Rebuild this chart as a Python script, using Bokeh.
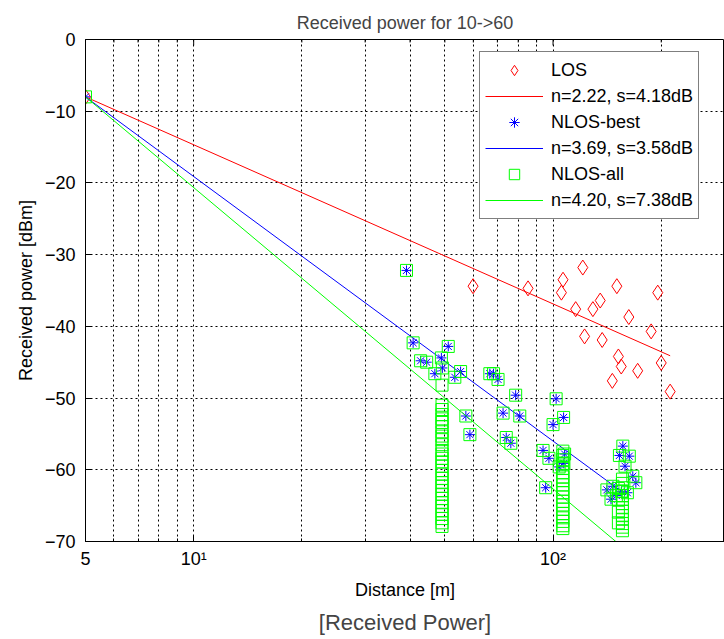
from bokeh.plotting import figure
from bokeh.models import (Range1d, FixedTicker, Legend, LegendItem, Title)
from bokeh.embed import file_html
from bokeh.resources import INLINE

# ---------------- data ----------------
los_d = [5, 59.9, 85.2, 106.6, 105.5, 121, 115.6, 135.3, 129.1, 150.5, 162.5,
         195.6, 122.4, 137, 187.5, 152, 154.8, 172, 146.2, 200, 211.8]
los_p = [-8, -34.4, -34.7, -33.5, -35.3, -31.8, -37.6, -36.4, -37.6, -34.4, -38.7,
         -35.3, -41.4, -41.9, -40.7, -44.2, -45.6, -46.2, -47.6, -45.1, -49.1]

best_d = [5, 39.1, 40.8, 51.1, 42.8, 44.5, 48.9, 49.2, 46.9, 53.3, 55.3, 66.7, 68.3,
          70.3, 78.7, 102, 57.2, 72.6, 80.8, 100, 107, 58.7, 74.1, 76.3, 93.8, 97.4,
          107.7, 107.2, 104, 95.4, 156.4, 153, 163, 158.6, 166.7, 170, 141.2, 146.8,
          145, 150, 155, 161]
best_p = [-8, -32.2, -42.3, -42.8, -44.8, -45.0, -44.4, -45.8, -46.6, -47.1, -46.3, -46.6, -46.6,
          -47.4, -49.6, -50.1, -52.5, -52.1, -52.5, -53.7, -52.7, -55.1, -55.5, -56.3, -57.3, -58.4,
          -57.8, -59.1, -59.6, -62.5, -56.7, -58.0, -58.1, -59.5, -60.9, -61.8, -62.8, -62.3,
          -64.1, -63.6, -63.0, -63.2]

# NLOS-all = NLOS-best points plus the extra (non-best) measurements
extra_d = [49.1] * 31 + [106.5] * 20 + [156] * 14 + [152] * 4
extra_p = [-48.2, -51.0, -51.6, -52.3, -52.9, -53.4, -54.0, -54.7, -55.3, -55.8, -56.5,
           -57.3, -57.8, -58.4, -58.9, -59.5, -60.1, -60.6, -61.2, -61.8, -62.3, -62.9,
           -63.4, -64.0, -64.6, -65.1, -65.7, -66.2, -66.8, -67.4, -67.9,
           -57.4, -58.0, -58.6, -59.2, -59.8, -60.4, -61.0, -61.5, -62.1, -62.7, -63.2,
           -63.8, -64.4, -64.9, -65.5, -66.1, -66.7, -67.2, -67.8, -68.2,
           -61.3, -61.9, -62.5, -63.0, -63.6, -64.1, -64.7, -65.3, -65.8, -66.4, -66.9,
           -67.5, -68.0, -68.5,
           -62.6, -64.2, -65.9, -67.4]
all_d = best_d + extra_d
all_p = best_p + extra_p

# fitted path-loss lines (end points)
fit_los_d, fit_los_p = [5, 211.8], [-8.0, -44.1]
fit_best_d, fit_best_p = [5, 152], [-8.0, -62.7]
fit_all_d, fit_all_p = [5, 152], [-8.0, -70.3]

labels = ["LOS", "n=2.22, s=4.18dB", "NLOS-best", "n=3.69, s=3.58dB",
          "NLOS-all", "n=4.20, s=7.38dB"]

x_lim = (5, 300)
y_lim = (-70, 0)
x_major = [5, 10, 100]
x_minor = [6, 7, 8, 9, 20, 30, 40, 50, 60, 70, 80, 90, 200, 300]
x_labels = {5: "5", 10: "10¹", 100: "10²"}
y_ticks = [-70, -60, -50, -40, -30, -20, -10, 0]

FONT = "Liberation Sans"
RED, BLUE, GREEN = "#FF0000", "#0000FF", "#00FF00"

W, H = 724, 639
LEFT, TOP, BOTTOM = 85, 39, 93
frame_h = H - TOP - BOTTOM

# ---------------- figure ----------------
p = figure(width=W, height=H, x_axis_type="log",
           x_range=Range1d(*x_lim), y_range=Range1d(*y_lim),
           output_backend="svg", toolbar_location=None,
           min_border_left=LEFT, min_border_right=0, min_border_top=TOP,
           min_border_bottom=BOTTOM)
p.background_fill_color = "white"
p.border_fill_color = "white"
p.outline_line_color = "black"
p.outline_line_width = 1

p.title.text = "Received power for 10->60"
p.title.align = "center"
p.title.text_font = FONT
p.title.text_font_size = "18px"
p.title.text_font_style = "normal"
p.title.standoff = 14

# axes
p.xaxis.ticker = FixedTicker(ticks=x_major, minor_ticks=x_minor)
p.xaxis.major_label_overrides = x_labels
p.yaxis.ticker = FixedTicker(ticks=y_ticks)
for ax in (p.xaxis, p.yaxis):
    ax.major_tick_in = 6
    ax.major_tick_out = 0
    ax.minor_tick_in = 3
    ax.minor_tick_out = 0
    ax.axis_line_color = "black"
    ax.major_label_text_font = FONT
    ax.major_label_text_font_size = "18px"
    ax.major_label_text_color = "black"
    ax.axis_label_text_font = FONT
    ax.axis_label_text_font_size = "18px"
    ax.axis_label_text_font_style = "normal"
    ax.axis_label_text_color = "black"
p.yaxis.minor_tick_in = 0
p.xaxis.axis_label = "Distance [m]"
p.yaxis.axis_label = "Received power [dBm]"
p.xaxis.major_label_standoff = 7
p.yaxis.major_label_standoff = 10
p.xaxis.axis_label_standoff = 8
p.yaxis.axis_label_standoff = 6

# inward ticks along the top edge of the box
span = y_lim[1] - y_lim[0]
p.segment(x0=x_major, x1=x_major, y0=[y_lim[1]] * len(x_major),
          y1=[y_lim[1] - span * 6 / frame_h] * len(x_major), line_color="black", line_width=1)
p.segment(x0=x_minor, x1=x_minor, y0=[y_lim[1]] * len(x_minor),
          y1=[y_lim[1] - span * 3 / frame_h] * len(x_minor), line_color="black", line_width=1)

# grid
for g in (p.xgrid, p.ygrid):
    g.grid_line_color = "black"
    g.grid_line_dash = "2 3"
    g.grid_line_width = 1
p.xgrid.minor_grid_line_color = "black"
p.xgrid.minor_grid_line_dash = "2 3"
p.xgrid.minor_grid_line_width = 1

# data
r_los = p.scatter(los_d, los_p, marker="diamond", size=15,
                  fill_color=None, line_color=RED, line_width=1)
l_los = p.line(fit_los_d, fit_los_p, line_color=RED, line_width=1)
r_best = p.scatter(best_d, best_p, marker="asterisk", size=10,
                   line_color=BLUE, line_width=1)
l_best = p.line(fit_best_d, fit_best_p, line_color=BLUE, line_width=1)
r_all = p.scatter(all_d, all_p, marker="square", size=12,
                  fill_color=None, line_color=GREEN, line_width=1)
l_all = p.line(fit_all_d, fit_all_p, line_color=GREEN, line_width=1)

rends = [r_los, l_los, r_best, l_best, r_all, l_all]
legend = Legend(items=[LegendItem(label=lab, renderers=[r]) for lab, r in zip(labels, rends)],
                location=(394, 322))
legend.label_text_font = FONT
legend.label_text_font_size = "18px"
legend.label_text_color = "black"
legend.border_line_color = "black"
legend.border_line_width = 1
legend.background_fill_color = "white"
legend.background_fill_alpha = 1
legend.padding = 5
legend.spacing = 0
legend.glyph_width = 58
legend.glyph_height = 26
legend.label_height = 26
legend.label_standoff = 8
legend.margin = 0
p.add_layout(legend)

cap = Title(text="[Received Power]", align="center", text_font=FONT,
            text_font_size="22px", text_font_style="normal")
p.add_layout(cap, "below")

open("out.html", "w").write(file_html(p, INLINE))
